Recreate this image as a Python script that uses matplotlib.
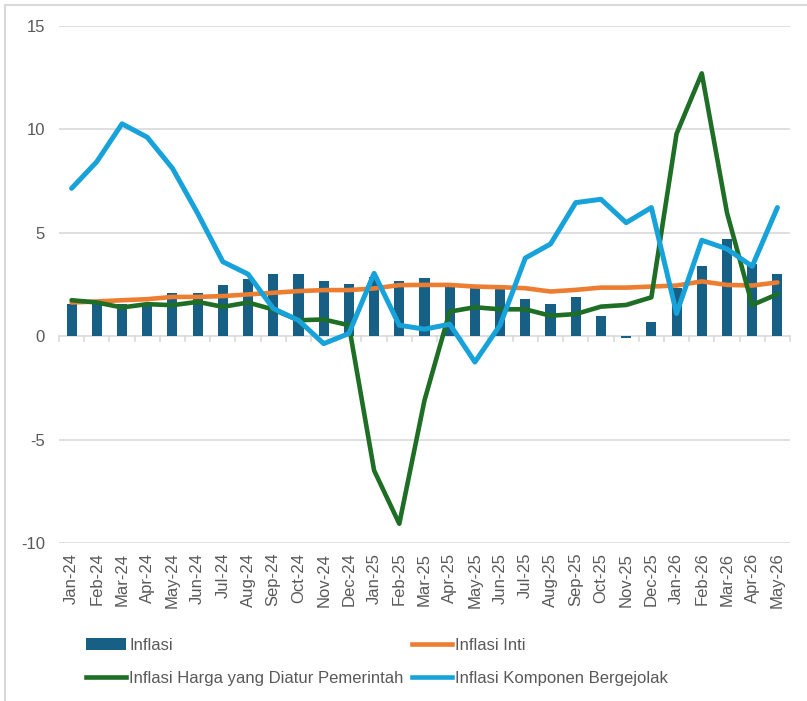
import matplotlib
matplotlib.use("Agg")
import matplotlib.pyplot as plt
from matplotlib.lines import Line2D
from matplotlib.patches import Patch
import numpy as np

plt.rcParams['font.family'] = ['Liberation Sans', 'DejaVu Sans']

months = ["Jan-24", "Feb-24", "Mar-24", "Apr-24", "May-24", "Jun-24", "Jul-24", "Aug-24",
          "Sep-24", "Oct-24", "Nov-24", "Dec-24", "Jan-25", "Feb-25", "Mar-25", "Apr-25",
          "May-25", "Jun-25", "Jul-25", "Aug-25", "Sep-25", "Oct-25", "Nov-25", "Dec-25",
          "Jan-26", "Feb-26", "Mar-26", "Apr-26", "May-26"]

inflasi = [1.55, 1.66, 1.58, 1.60, 2.07, 2.07, 2.47, 2.76, 2.99, 3.03, 2.66, 2.52,
           2.84, 2.66, 2.82, 2.45, 2.40, 2.30, 1.82, 1.58, 1.88, 0.99, -0.11, 0.69,
           2.31, 3.40, 4.72, 3.49, 3.03]

inflasi_inti = [1.63, 1.68, 1.74, 1.79, 1.90, 1.90, 1.94, 2.02, 2.10, 2.18, 2.23, 2.23,
                2.31, 2.47, 2.48, 2.48, 2.40, 2.37, 2.32, 2.16, 2.24, 2.35, 2.35, 2.40,
                2.45, 2.65, 2.48, 2.45, 2.60]

inflasi_harga_diatur = [1.74, 1.63, 1.39, 1.55, 1.50, 1.66, 1.42, 1.63, 1.29, 0.77, 0.81, 0.53,
                        -6.49, -9.07, -3.10, 1.19, 1.40, 1.30, 1.30, 0.99, 1.07, 1.43, 1.51, 1.88,
                        9.79, 12.71, 5.97, 1.51, 2.03]

inflasi_bergejolak = [7.15, 8.44, 10.27, 9.62, 8.12, 5.94, 3.60, 3.00, 1.34, 0.77, -0.36, 0.13,
                      3.04, 0.53, 0.34, 0.58, -1.25, 0.54, 3.78, 4.46, 6.46, 6.62, 5.49, 6.22,
                      1.10, 4.64, 4.22, 3.38, 6.22]

y_ticks = [-10, -5, 0, 5, 10, 15]

labels = ["Inflasi", "Inflasi Inti", "Inflasi Harga yang Diatur Pemerintah",
          "Inflasi Komponen Bergejolak"]

c_bar = '#175F85'
c_inti = '#ED7D31'
c_harga = '#1E6E25'
c_bergejolak = '#17A2D9'
c_grid = '#D9D9D9'
c_text = '#595959'

fig = plt.figure(figsize=(8.07, 7.01), dpi=100)
ax = fig.add_axes([59/807, 1-543/701, (790-59)/807, (543-26)/701])

x = np.arange(len(months))
ax.set_xlim(-0.5, len(months) - 0.5)
ax.set_ylim(min(y_ticks), max(y_ticks))

for v in y_ticks:
    ax.axhline(v, color=c_grid, lw=1.2, zorder=0)
# category tick marks on zero line
for b in np.arange(len(months) + 1) - 0.5:
    ax.plot([b, b], [0, -0.25], color=c_grid, lw=1.2, zorder=0, clip_on=False)

ax.bar(x, inflasi, width=0.4, color=c_bar, zorder=2)
ax.plot(x, inflasi_inti, color=c_inti, lw=3.3, zorder=3, solid_joinstyle='round', solid_capstyle='round')
ax.plot(x, inflasi_harga_diatur, color=c_harga, lw=3.3, zorder=4, solid_joinstyle='round', solid_capstyle='round')
ax.plot(x, inflasi_bergejolak, color=c_bergejolak, lw=3.6, zorder=5, solid_joinstyle='round', solid_capstyle='round')

for s in ax.spines.values():
    s.set_visible(False)

ax.set_yticks(y_ticks)
ax.set_yticklabels([str(v) for v in y_ticks])
ax.tick_params(axis='y', length=0, pad=10, labelsize=12, labelcolor=c_text)
ax.set_xticks(x)
ax.set_xticklabels(months, rotation=90)
ax.tick_params(axis='x', length=0, pad=7, labelsize=12, labelcolor=c_text)

handles = [Patch(facecolor=c_bar, edgecolor='none'),
           Line2D([], [], color=c_harga, lw=3.3),
           Line2D([], [], color=c_inti, lw=3.3),
           Line2D([], [], color=c_bergejolak, lw=3.3)]
leg_labels = [labels[0], labels[2], labels[1], labels[3]]
leg = fig.legend(handles, leg_labels, ncol=2, loc='upper left',
                 bbox_to_anchor=(86/807, 1-638/701), frameon=False,
                 fontsize=12, handlelength=2.4, handleheight=0.75, handletextpad=0.2,
                 columnspacing=0.5, labelspacing=1.05, borderpad=0, borderaxespad=0)
for t in leg.get_texts():
    t.set_color(c_text)

# chart area border (top and left visible)
fig.add_artist(Line2D([5/807, 1], [1-5/701, 1-5/701], color=c_grid, lw=1.5, transform=fig.transFigure))
fig.add_artist(Line2D([5/807, 5/807], [0, 1-5/701], color=c_grid, lw=1.5, transform=fig.transFigure))

fig.savefig("out.png", dpi=100, facecolor='white')
